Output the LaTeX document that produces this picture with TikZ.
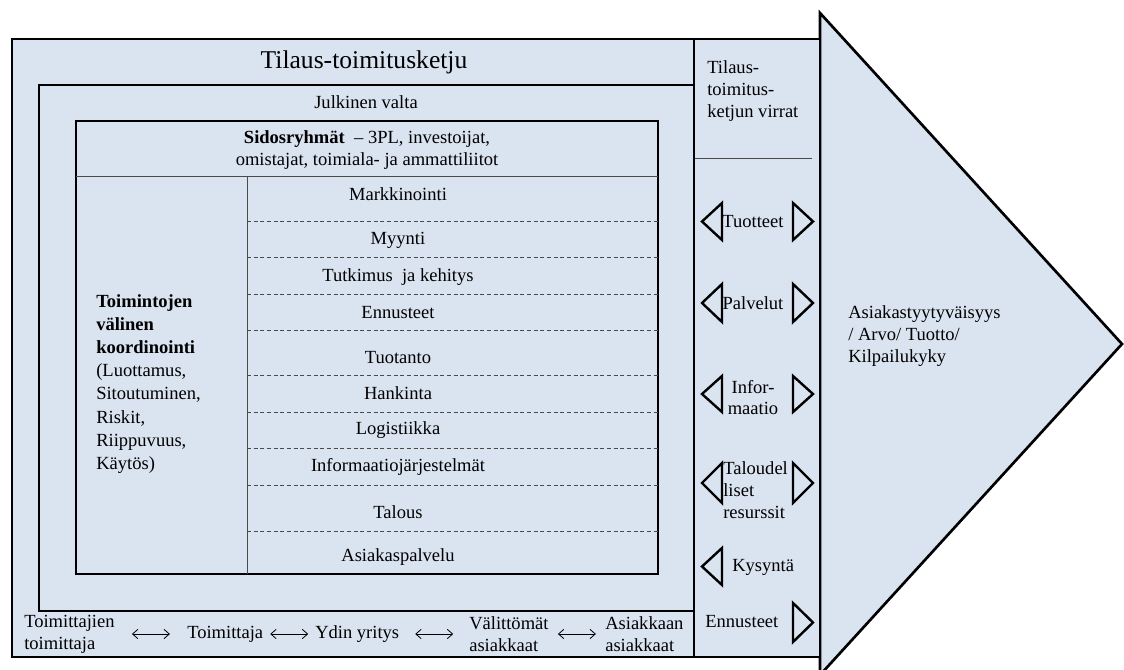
\documentclass[tikz,border=0pt]{standalone}
\usepackage{fontspec}
\setmainfont{Liberation Serif}
\usetikzlibrary{arrows.meta,calc}
\definecolor{paleblue}{HTML}{DAE3F0}
\definecolor{rulegray}{HTML}{4A4A4A}
\begin{document}
\begin{tikzpicture}[x=0.75pt,y=-0.75pt,
  txt/.style={inner sep=0pt, font=\fontsize{13.9}{16.5}\selectfont},
  coltxt/.style={inner sep=0pt, font=\fontsize{13.9}{16.5}\selectfont, align=left},
  bigtitle/.style={inner sep=0pt, font=\fontsize{19.2}{22}\selectfont},
  frame/.style={draw=black, line width=2pt},
  thinrule/.style={draw=rulegray, line width=0.7pt},
  dashrule/.style={draw=rulegray, line width=0.6pt, dash pattern=on 3pt off 2pt},
  flowtri/.style={draw=black, fill=paleblue, line width=1.8pt, line join=miter},
  chain/.style={line width=0.6pt, {Straight Barb[length=4pt,width=7pt]}-{Straight Barb[length=4pt,width=7pt]}},
]
\useasboundingbox (0,0) rectangle (1124,670);
\fill[white] (0,0) rectangle (1124,670);

% value arrow on the right
\draw[frame, fill=paleblue, line join=miter] (820,13) -- (1122,344) -- (820,675) -- cycle;

% outer frame: the supply chain
\draw[frame, fill=paleblue] (12,39) rectangle (820,657);
\draw[frame] (694,39) -- (694,657);
\draw[thinrule] (694,158) -- (812,158);

% public authority frame
\draw[frame] (39,85) rectangle (694,611);

% stakeholder frame with the function table
\draw[frame] (76,121) rectangle (658,574);
\draw[thinrule] (76,176) -- (658,176);
\draw[thinrule] (247,176) -- (247,574);
\foreach \yy in {221,257,294,330,375,412,448,485,531}
  \draw[dashrule] (247,\yy) -- (658,\yy);

% titles
\node[bigtitle] (chain) at (364,62) {Tilaus-toimitusketju};
\node[txt] (public) at (366,102) {Julkinen valta};
\node[txt, align=center] (stake) at (367,150)
  {\textbf{Sidosryhmät}\ \ – 3PL, investoijat,\\omistajat, toimiala- ja ammattiliitot};

% functions
\node[txt] (f1) at (398,194) {Markkinointi};
\node[txt] (f2) at (398,240) {Myynti};
\node[txt] (f3) at (398,277) {Tutkimus\ \ ja kehitys};
\node[txt] (f4) at (398,313) {Ennusteet};
\node[txt] (f5) at (398,358) {Tuotanto};
\node[txt] (f6) at (398,393) {Hankinta};
\node[txt] (f7) at (398,430) {Logistiikka};
\node[txt] (f8) at (398,467) {Informaatiojärjestelmät};
\node[txt] (f9) at (398,512) {Talous};
\node[txt] (f10) at (398,557) {Asiakaspalvelu};

% coordination column
\node[coltxt, font=\fontsize{13.9}{17.3}\selectfont, anchor=west] (coord) at (96,384)
  {\textbf{Toimintojen}\\\textbf{välinen}\\\textbf{koordinointi}\\(Luottamus,\\Sitoutuminen,\\Riskit,\\Riippuvuus,\\Käytös)};

% flows column
\node[coltxt, font=\fontsize{13.9}{16.2}\selectfont, anchor=west] (flows) at (707,91)
  {Tilaus-\\toimitus-\\ketjun virrat};

\draw[flowtri] (702,221.5) -- (722,203) -- (722,240) -- cycle;
\draw[flowtri] (813,221.5) -- (793,203) -- (793,240) -- cycle;
\draw[flowtri] (702,303) -- (722,284) -- (722,322) -- cycle;
\draw[flowtri] (813,303) -- (793,284) -- (793,322) -- cycle;
\draw[flowtri] (702,394) -- (722,376) -- (722,412) -- cycle;
\draw[flowtri] (813,394) -- (793,376) -- (793,412) -- cycle;
\draw[flowtri] (702,483) -- (722,463) -- (722,503) -- cycle;
\draw[flowtri] (813,483) -- (793,463) -- (793,503) -- cycle;
\draw[flowtri] (702,566.5) -- (722,548) -- (722,585) -- cycle;
\draw[flowtri] (813,622.5) -- (793,603) -- (793,642) -- cycle;

\node[txt] (products) at (753,222) {Tuotteet};
\node[txt] (services) at (753,303) {Palvelut};
\node[txt, align=center, font=\fontsize{13.9}{15.8}\selectfont] (info) at (753,398) {Infor-\\maatio};
\node[coltxt, font=\fontsize{13.9}{16.7}\selectfont, anchor=west] (money) at (723,490) {Taloudel\\liset\\resurssit};
\node[txt, anchor=west] (demand) at (732,567) {Kysyntä};
\node[txt, anchor=west] (forecast) at (705,622) {Ennusteet};

% value text in the arrow
\node[coltxt, font=\fontsize{13.9}{16.5}\selectfont, anchor=west] (value) at (848,336)
  {Asiakastyytyväisyys\\/ Arvo/ Tuotto/\\Kilpailukyky};

% chain members along the bottom
\node[txt, align=left, anchor=west] (m1) at (24,634) {Toimittajien\\toimittaja};
\node[txt, anchor=west] (m2) at (187,634) {Toimittaja};
\node[txt, anchor=west] (m3) at (315,634) {Ydin yritys};
\node[txt, align=left, anchor=west] (m4) at (469,634) {Välittömät\\asiakkaat};
\node[txt, align=left, anchor=west] (m5) at (605,634) {Asiakkaan\\asiakkaat};

\draw[chain] ($(m1.east)!0.5!(m2.west)+(-19,0)$) -- ($(m1.east)!0.5!(m2.west)+(19,0)$);
\draw[chain] ($(m2.east)!0.5!(m3.west)+(-19,0)$) -- ($(m2.east)!0.5!(m3.west)+(19,0)$);
\draw[chain] ($(m3.east)!0.5!(m4.west)+(-19,0)$) -- ($(m3.east)!0.5!(m4.west)+(19,0)$);
\draw[chain] ($(m4.east)!0.5!(m5.west)+(-19,0)$) -- ($(m4.east)!0.5!(m5.west)+(19,0)$);
\end{tikzpicture}
\end{document}
